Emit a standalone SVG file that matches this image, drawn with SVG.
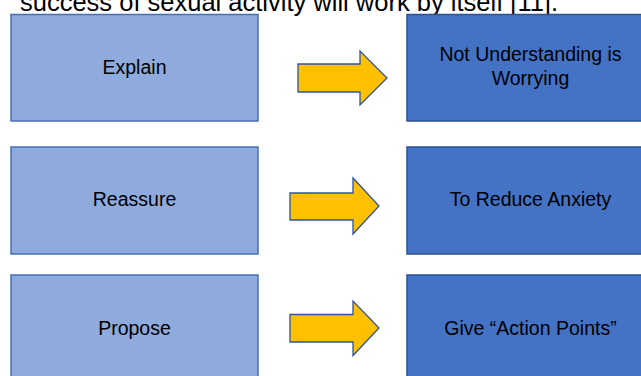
<svg xmlns="http://www.w3.org/2000/svg" width="641" height="376" viewBox="0 0 641 376">
<style>
text{font-family:"Liberation Sans",Arial,sans-serif;fill:#000;text-anchor:middle}
.t{font-size:19.5px}
.hd{font-size:25.5px;text-anchor:start}
.lb{fill:#8FAADC;stroke:#4A6FB0;stroke-width:1.5}
.db{fill:#4472C4;stroke:#2F528F;stroke-width:1.5}
.ar{fill:#FFC000;stroke:#2F5597;stroke-width:1.3;stroke-linejoin:miter}
</style>
<rect width="641" height="376" fill="#fff"/>
<text class="hd" x="20" y="11">success of sexual activity will work by itself [11].</text>
<g id="explain"><rect class="lb" x="11" y="14.5" width="247" height="106.5"/><text class="t" x="134.5" y="73.5">Explain</text></g>
<g id="not-understanding"><rect class="db" x="407" y="14.5" width="247" height="106.5"/><text class="t" x="530.5" y="60.5">Not Understanding is</text><text class="t" x="530.5" y="84.5">Worrying</text></g>
<g id="reassure"><rect class="lb" x="11" y="147" width="247" height="107"/><text class="t" x="134.5" y="206">Reassure</text></g>
<g id="reduce-anxiety"><rect class="db" x="407" y="147" width="247" height="107"/><text class="t" x="530.5" y="206">To Reduce Anxiety</text></g>
<g id="propose"><rect class="lb" x="11" y="275" width="247" height="107"/><text class="t" x="134.5" y="335">Propose</text></g>
<g id="action-points"><rect class="db" x="407" y="275" width="247" height="107"/><text class="t" x="530.5" y="335">Give “Action Points”</text></g>
<g id="connectors">
<polygon class="ar" points="298,64 360,64 360,51 387,78 360,105 360,92 298,92"/>
<polygon class="ar" points="290,193 353,193 353,178 379,206 353,234 353,220 290,220"/>
<polygon class="ar" points="290,314.5 353,314.5 353,301 379,328 353,355.5 353,342 290,342"/>
</g>
</svg>
